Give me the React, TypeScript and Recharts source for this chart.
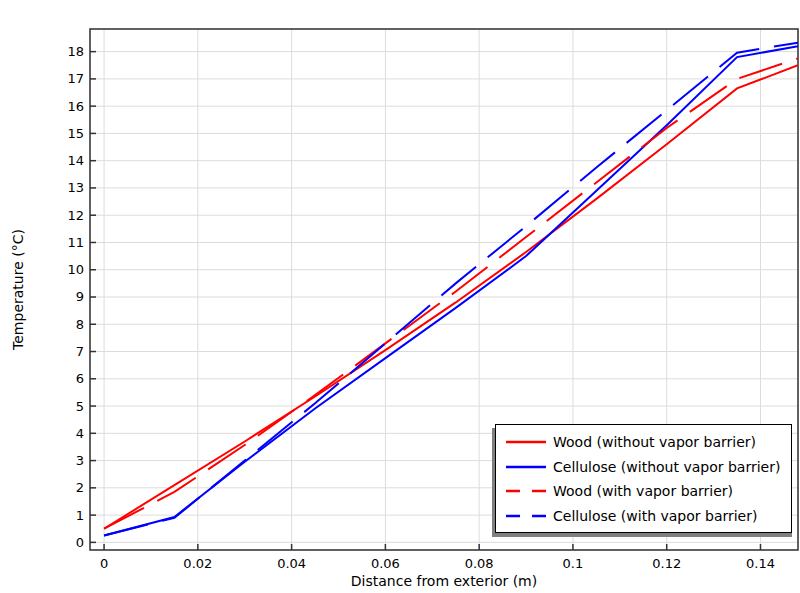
import React from 'react';
import { LineChart, Line, XAxis, YAxis, CartesianGrid, ReferenceArea } from 'recharts';

// distance from exterior (m)
const distance = [0, 0.015, 0.03, 0.045, 0.06, 0.075, 0.09, 0.105, 0.12, 0.135, 0.148];
// temperatures (°C)
const woodNoBarrier = [0.5, 2.1, 3.7, 5.35, 7.05, 8.8, 10.65, 12.6, 14.6, 16.65, 17.5];
const celluloseNoBarrier = [0.25, 0.93, 2.96, 4.91, 6.76, 8.6, 10.5, 12.9, 15.3, 17.8, 18.2];
const woodBarrier = [0.5, 1.85, 3.57, 5.4, 7.3, 9.2, 11.2, 13.2, 15.2, 17.0, 17.75];
const celluloseBarrier = [0.25, 0.9, 3.0, 5.1, 7.3, 9.5, 11.6, 13.75, 15.85, 17.96, 18.33];

const xTicks = [0, 0.02, 0.04, 0.06, 0.08, 0.1, 0.12, 0.14];
const yTicks = [0, 1, 2, 3, 4, 5, 6, 7, 8, 9, 10, 11, 12, 13, 14, 15, 16, 17, 18];
const xDomain = [-0.003, 0.148];
const yDomain = [-0.28, 18.83];

const seriesNames = [
  'Wood (without vapor barrier)',
  'Cellulose (without vapor barrier)',
  'Wood (with vapor barrier)',
  'Cellulose (with vapor barrier)',
];

const data = distance.map((d, i) => ({
  x: d,
  woodNo: woodNoBarrier[i],
  celluloseNo: celluloseNoBarrier[i],
  woodYes: woodBarrier[i],
  celluloseYes: celluloseBarrier[i],
}));

const FONT = '"DejaVu Sans", Verdana, sans-serif';
const FRAME = '#333';

const BottomTick = (props: any) => {
  const { x, y, payload } = props;
  return (
    <g>
      <line x1={x} y1={y} x2={x} y2={y - 6} stroke={FRAME} strokeWidth={1.5} />
      <text x={x} y={y + 18} textAnchor="middle" fontSize={13} fontFamily={FONT} fill="#000">
        {String(payload.value)}
      </text>
    </g>
  );
};

const TopTick = (props: any) => {
  const { x, y } = props;
  return <line x1={x} y1={y} x2={x} y2={y + 6} stroke={FRAME} strokeWidth={1.5} />;
};

const LeftTick = (props: any) => {
  const { x, y, payload } = props;
  return (
    <g>
      <line x1={x} y1={y} x2={x + 6} y2={y} stroke={FRAME} strokeWidth={1.5} />
      <text x={x - 6} y={y + 4.5} textAnchor="end" fontSize={13} fontFamily={FONT} fill="#000">
        {String(payload.value)}
      </text>
    </g>
  );
};

const legendRows = [
  { name: seriesNames[0], color: '#ff0000', dash: false },
  { name: seriesNames[1], color: '#0000ff', dash: false },
  { name: seriesNames[2], color: '#ff0000', dash: true },
  { name: seriesNames[3], color: '#0000ff', dash: true },
];

export default function App() {
  return (
    <div style={{ position: 'absolute', left: 0, top: 0, width: 800, height: 593, background: '#fff', fontFamily: FONT }}>
      <LineChart width={800} height={593} data={data} margin={{ top: 29, right: 2, bottom: 0, left: 0 }}>
        <CartesianGrid stroke="#dcdcdc" strokeWidth={1} />
        <XAxis
          dataKey="x"
          type="number"
          domain={xDomain}
          ticks={xTicks}
          allowDataOverflow
          height={43}
          tickSize={0}
          tickMargin={0}
          axisLine={false}
          tickLine={false}
          tick={<BottomTick />}
          label={{
            content: (p: any) => {
              const vb = p.viewBox;
              return (
                <text x={vb.x + vb.width / 2} y={vb.y + 36} textAnchor="middle" fontSize={14} fontFamily={FONT} fill="#000">
                  Distance from exterior (m)
                </text>
              );
            },
          }}
        />
        <XAxis
          xAxisId="top"
          dataKey="x"
          type="number"
          orientation="top"
          domain={xDomain}
          ticks={xTicks}
          allowDataOverflow
          height={0}
          tickSize={0}
          tickMargin={0}
          axisLine={false}
          tickLine={false}
          tick={<TopTick />}
          label={{
            content: (p: any) => {
              const vb = p.viewBox;
              return (
                <text x={vb.x + vb.width / 2} y={18} textAnchor="middle" fontSize={14.5} fontFamily={FONT} fill="#000">
                  Temperature across the wall
                </text>
              );
            },
          }}
        />
        <YAxis
          type="number"
          domain={yDomain}
          ticks={yTicks}
          allowDataOverflow
          width={90}
          tickSize={0}
          tickMargin={0}
          axisLine={false}
          tickLine={false}
          tick={<LeftTick />}
          label={{
            content: (p: any) => {
              const vb = p.viewBox;
              const cx = 18;
              const cy = vb.y + vb.height / 2;
              return (
                <text x={cx} y={cy} transform={`rotate(-90 ${cx} ${cy})`} textAnchor="middle" dominantBaseline="central" fontSize={14} fontFamily={FONT} fill="#000">
                  Temperature (°C)
                </text>
              );
            },
          }}
        />
        <ReferenceArea
          x1={xDomain[0]}
          x2={xDomain[1]}
          y1={yDomain[0]}
          y2={yDomain[1]}
          fill="none"
          fillOpacity={0}
          stroke={FRAME}
          strokeWidth={1.5}
          ifOverflow="visible"
        />
        <Line type="linear" dataKey="woodNo" name={seriesNames[0]} stroke="#ff0000" strokeWidth={2} dot={false} isAnimationActive={false} />
        <Line type="linear" dataKey="celluloseNo" name={seriesNames[1]} stroke="#0000ff" strokeWidth={2} dot={false} isAnimationActive={false} />
        <Line type="linear" dataKey="woodYes" name={seriesNames[2]} stroke="#ff0000" strokeWidth={2} strokeDasharray="45 15" dot={false} isAnimationActive={false} />
        <Line type="linear" dataKey="celluloseYes" name={seriesNames[3]} stroke="#0000ff" strokeWidth={2} strokeDasharray="45 15" dot={false} isAnimationActive={false} />
      </LineChart>

      {/* legend with offset shadow */}
      <div style={{ position: 'absolute', left: 492, top: 428, width: 300, height: 109, background: '#808080' }} />
      <div
        style={{
          position: 'absolute',
          left: 495,
          top: 424,
          width: 297,
          height: 109,
          background: '#fff',
          border: '1px solid #000',
          boxSizing: 'border-box',
        }}
      >
        {legendRows.map((r, i) => (
          <div key={r.name} style={{ position: 'absolute', left: 0, top: 7 + i * 24.7, height: 20, width: '100%' }}>
            <svg width={42} height={20} style={{ position: 'absolute', left: 9, top: 0 }}>
              <line x1={1} y1={10} x2={41} y2={10} stroke={r.color} strokeWidth={2.5} strokeDasharray={r.dash ? '14 12' : undefined} />
            </svg>
            <span style={{ position: 'absolute', left: 57, top: 1, fontSize: 14, lineHeight: '18px', color: '#000', whiteSpace: 'nowrap' }}>
              {r.name}
            </span>
          </div>
        ))}
      </div>
    </div>
  );
}
